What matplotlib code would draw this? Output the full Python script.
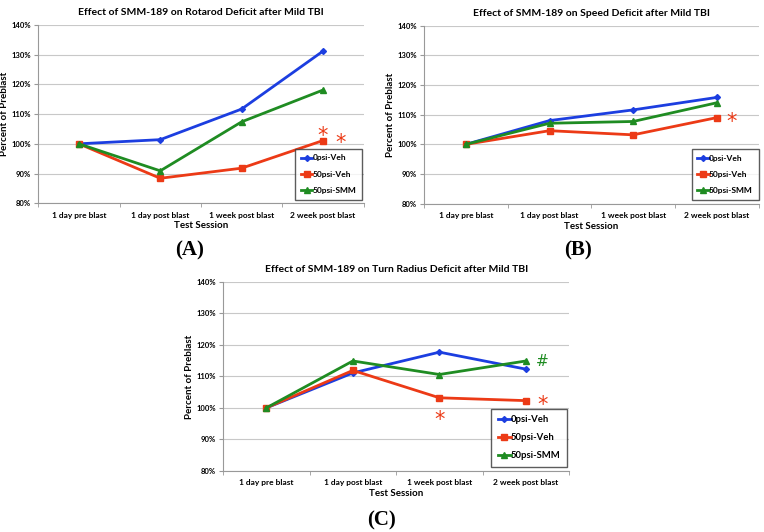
import matplotlib.pyplot as plt
from matplotlib.lines import Line2D

plt.rcParams['font.family'] = ['Lato', 'DejaVu Sans']

sessions = ['1 day pre blast', '1 day post blast', '1 week post blast', '2 week post blast']
series_names = ['0psi-Veh', '50psi-Veh', '50psi-SMM']

rotarod_veh0 = [100.0, 101.4, 111.7, 131.2]
rotarod_veh50 = [100.0, 88.4, 91.8, 101.1]
rotarod_smm50 = [100.0, 90.9, 107.4, 118.1]

speed_veh0 = [100.0, 108.0, 111.6, 115.8]
speed_veh50 = [100.0, 104.6, 103.2, 109.0]
speed_smm50 = [100.0, 107.1, 107.7, 114.0]

turn_veh0 = [100.0, 111.1, 117.7, 112.3]
turn_veh50 = [100.0, 111.9, 103.2, 102.3]
turn_smm50 = [100.0, 114.9, 110.6, 114.9]

titles = ['Effect of SMM-189 on Rotarod Deficit after Mild TBI',
          'Effect of SMM-189 on Speed Deficit after Mild TBI',
          'Effect of SMM-189 on Turn Radius Deficit after Mild TBI']
panel_labels = ['(A)', '(B)', '(C)']

COLORS = ['#1c3ee0', '#ec3a16', '#1f8c22']
MARKERS = ['D', 's', '^']
MSIZES = [3.0, 5.0, 5.0]
GRID = '#c8c8c8'

fig = plt.figure(figsize=(7.64, 5.32), dpi=100)

rects = [
    [0.050, 0.618, 0.426, 0.335],
    [0.555, 0.617, 0.438, 0.335],
    [0.292, 0.115, 0.453, 0.355],
]

data = [
    (rotarod_veh0, rotarod_veh50, rotarod_smm50),
    (speed_veh0, speed_veh50, speed_smm50),
    (turn_veh0, turn_veh50, turn_smm50),
]

axes = []
for i, (rect, series) in enumerate(zip(rects, data)):
    ax = fig.add_axes(rect)
    axes.append(ax)
    x = [k + 0.5 for k in range(len(sessions))]
    for vals, name, c, m, ms in zip(series, series_names, COLORS, MARKERS, MSIZES):
        ax.plot(x, vals, color=c, marker=m, markersize=ms, lw=2.0, label=name,
                zorder=3)
    ax.set_xlim(0, 4)
    ax.set_ylim(80, 140)
    ax.set_yticks(range(80, 141, 10))
    ax.set_yticklabels([f'{v}%' for v in range(80, 141, 10)])
    ax.set_xticks(x)
    ax.set_xticklabels(sessions)
    ax.set_xticks([0, 1, 2, 3, 4], minor=True)
    ax.tick_params(axis='x', which='major', length=0, labelsize=6, pad=6)
    ax.tick_params(axis='x', which='minor', length=3, color='#999999', direction='out')
    ax.tick_params(axis='y', length=3, color='#999999', labelsize=5.5, pad=2)
    for lab in ax.get_xticklabels() + ax.get_yticklabels():
        lab.set_fontweight('bold')
    ax.grid(axis='y', color=GRID, lw=0.8)
    ax.set_axisbelow(True)
    for s in ['top', 'right']:
        ax.spines[s].set_visible(False)
    ax.spines['left'].set_color('#999999')
    ax.spines['bottom'].set_color('#999999')
    ax.set_xlabel('Test Session', fontsize=7, fontweight='bold', labelpad=2)
    ax.set_ylabel('Percent of Preblast', fontsize=7, fontweight='bold', labelpad=2)
    ax.set_title(titles[i], fontsize=7.5, fontweight='bold', pad=7)

    handles = [Line2D([0], [0], color=c, marker=m, markersize=ms, lw=2.0)
               for c, m, ms in zip(COLORS, MARKERS, MSIZES)]
    leg = ax.legend(handles, series_names, loc='lower right',
                    bbox_to_anchor=(1.0 if i == 1 else 0.995, 0.02),
                    fontsize=6 if i < 2 else 6.8, frameon=True, fancybox=False,
                    handlelength=1.4, handletextpad=0.0, labelspacing=1.1 if i < 2 else 0.95,
                    borderpad=0.7, borderaxespad=0.0)
    leg.get_frame().set_edgecolor('#333333')
    leg.get_frame().set_linewidth(1.0)
    for t in leg.get_texts():
        t.set_fontweight('bold')

star = dict(color=COLORS[1], fontsize=15, ha='center', va='center', family='DejaVu Sans')
# panel A annotations
axes[0].text(3.5, 102.8, '*', **star)
axes[0].text(3.72, 100.4, '*', **star)
# panel B annotations
axes[1].text(3.68, 107.5, '*', **star)
# panel C annotations
axes[2].text(2.5, 96.3, '*', **star)
axes[2].text(3.69, 100.8, '*', **star)
axes[2].text(3.69, 114.6, '#', color=COLORS[2], fontsize=11, ha='center', va='center',
              family='DejaVu Sans')

label_font = dict(family='Liberation Serif', fontsize=15, fontweight='bold', ha='center', va='center')
fig.text(190 / 764, 1 - 250 / 532, panel_labels[0], **label_font)
fig.text(578 / 764, 1 - 250 / 532, panel_labels[1], **label_font)
fig.text(382 / 764, 1 - 520 / 532, panel_labels[2], **label_font)

fig.savefig('out.png', dpi=100)
